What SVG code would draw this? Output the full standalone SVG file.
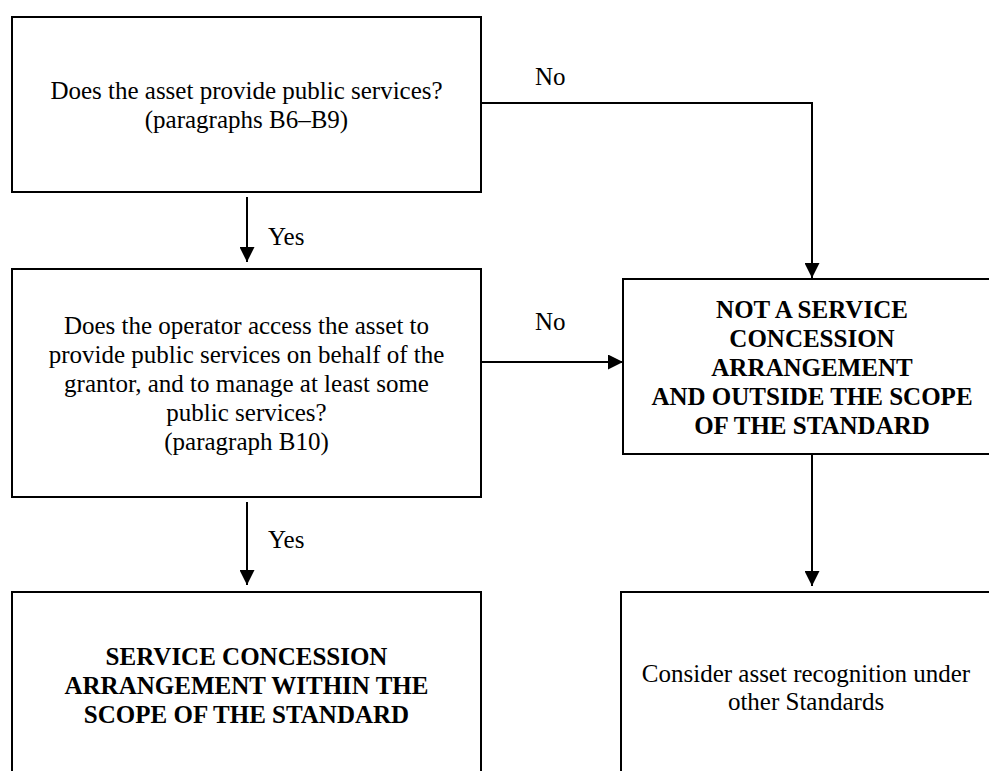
<svg xmlns="http://www.w3.org/2000/svg" width="989" height="771" viewBox="0 0 989 771">
<style>
.box{fill:#fff;stroke:#000;stroke-width:2}
.t{font-family:'Liberation Serif','Times New Roman',Tinos,'Noto Serif','DejaVu Serif',serif;font-size:25px;fill:#000;text-anchor:middle}
.b{font-weight:bold}
.l{font-family:'Liberation Serif','Times New Roman',Tinos,'Noto Serif','DejaVu Serif',serif;font-size:25px;fill:#000}
.c{fill:none;stroke:#000;stroke-width:2}
</style>
<defs>
<marker id="arr" markerUnits="userSpaceOnUse" markerWidth="15" markerHeight="15" refX="15" refY="7.5" orient="auto">
<path d="M0,0 L15,7.5 L0,15 z" fill="#000"/>
</marker>
</defs>
<rect width="989" height="771" fill="#fff"/>
<g id="connectors">
<path class="c" d="M481,103 H812 V278" marker-end="url(#arr)"/>
<path class="c" d="M247,197 V262" marker-end="url(#arr)"/>
<path class="c" d="M481,362 H623" marker-end="url(#arr)"/>
<path class="c" d="M247,502 V585" marker-end="url(#arr)"/>
<path class="c" d="M812,454 V586" marker-end="url(#arr)"/>
<text class="l" x="535" y="85">No</text>
<text class="l" x="268" y="245">Yes</text>
<text class="l" x="535" y="330">No</text>
<text class="l" x="268" y="548">Yes</text>
</g>
<g id="q1">
<rect class="box" x="12" y="17" width="469" height="175"/>
<text class="t" x="246.5" y="99">Does the asset provide public services?</text>
<text class="t" x="246.5" y="128">(paragraphs B6–B9)</text>
</g>
<g id="q2">
<rect class="box" x="12" y="269" width="469" height="228"/>
<text class="t" x="246.5" y="334">Does the operator access the asset to</text>
<text class="t" x="246.5" y="363">provide public services on behalf of the</text>
<text class="t" x="246.5" y="392">grantor, and to manage at least some</text>
<text class="t" x="246.5" y="421">public services?</text>
<text class="t" x="246.5" y="450">(paragraph B10)</text>
</g>
<g id="not-sca">
<rect class="box" x="623" y="279" width="378" height="175"/>
<text class="t b" x="812" y="318">NOT A SERVICE</text>
<text class="t b" x="812" y="347">CONCESSION</text>
<text class="t b" x="812" y="376">ARRANGEMENT</text>
<text class="t b" x="812" y="405">AND OUTSIDE THE SCOPE</text>
<text class="t b" x="812" y="434">OF THE STANDARD</text>
</g>
<g id="sca">
<rect class="box" x="12" y="592" width="469" height="220"/>
<text class="t b" x="246.5" y="665">SERVICE CONCESSION</text>
<text class="t b" x="246.5" y="694">ARRANGEMENT WITHIN THE</text>
<text class="t b" x="246.5" y="723">SCOPE OF THE STANDARD</text>
</g>
<g id="other">
<rect class="box" x="621" y="592" width="380" height="220"/>
<text class="t" x="806" y="682">Consider asset recognition under</text>
<text class="t" x="806" y="710">other Standards</text>
</g>
</svg>
